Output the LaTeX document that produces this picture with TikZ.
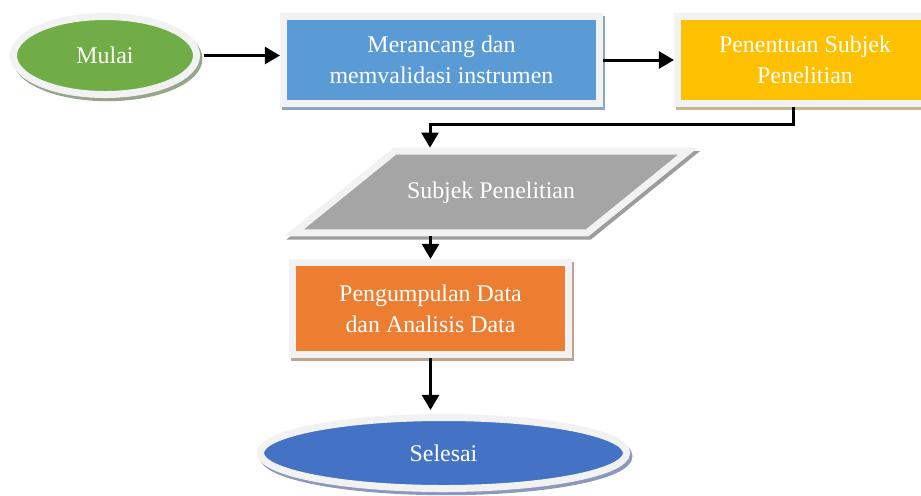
\documentclass[tikz,border=0pt]{standalone}
\usepackage{fontspec}
\setmainfont{Liberation Serif}
\usetikzlibrary{arrows.meta,shapes.geometric,shadows}
\definecolor{frame}{HTML}{F2F2F2}
\definecolor{startgreen}{HTML}{70AD47}
\definecolor{stepblue}{HTML}{5B9BD5}
\definecolor{stepgold}{HTML}{FFC000}
\definecolor{inputgray}{HTML}{A5A5A5}
\definecolor{steporange}{HTML}{ED7D31}
\definecolor{endblue}{HTML}{4472C4}
\definecolor{greenshade}{HTML}{96A68A}
\definecolor{blueshade}{HTML}{8FA4C0}
\definecolor{goldshade}{HTML}{C9B68E}
\definecolor{grayshade}{HTML}{9C9C9C}
\definecolor{orangeshade}{HTML}{C4A38C}
\definecolor{endshade}{HTML}{8C99BC}
\tikzset{
  flow/.style={
    draw=frame,
    line width=0.175cm,
    text=white,
    inner sep=0pt,
    align=center,
    font=\fontsize{17}{22}\selectfont
  },
  shade/.style={
    drop shadow={shadow xshift=0.06cm, shadow yshift=-0.08cm,
      opacity=1, fill=#1, draw=#1, line width=0.175cm}
  },
  arr/.style={line width=0.075cm, -{Triangle[length=0.375cm, width=0.42cm]}}
}

\begin{document}
\begin{tikzpicture}[x=0.025cm, y=-0.025cm]
  \useasboundingbox (0,0) rectangle (921,495);
  \clip (0,0) rectangle (921,495);

  % top row
  \node[flow, ellipse, fill=startgreen, shade=greenshade,
    minimum width=4.575cm, minimum height=1.95cm] (mulai) at (105,55.5) {Mulai};
  \node[flow, rectangle, fill=stepblue, shade=blueshade,
    minimum width=7.9cm, minimum height=2.175cm] (rancang) at (441.5,60)
    {Merancang dan\\memvalidasi instrumen};
  \node[flow, rectangle, fill=stepgold, shade=goldshade,
    minimum width=6.375cm, minimum height=2.175cm] (penentuan) at (805,60)
    {Penentuan Subjek\\Penelitian};

  % column down the middle
  \node[flow, trapezium, trapezium left angle=39, trapezium right angle=141,
    trapezium stretches body, fill=inputgray, shade=grayshade,
    text height=0.45cm, text depth=0.15cm, inner ysep=0.72cm,
    minimum width=9.85cm] (subjek) at (491,192)
    {Subjek Penelitian};
  \node[flow, rectangle, fill=steporange, shade=orangeshade,
    minimum width=6.9cm, minimum height=2.3cm] (olah) at (430.5,308.5)
    {Pengumpulan Data\\dan Analisis Data};
  \node[flow, ellipse, fill=endblue, shade=endshade,
    minimum width=9.15cm, minimum height=1.775cm] (selesai) at (443.5,453)
    {Selesai};

  \coordinate (bend) at (430,124);

  \draw[arr, shorten <=0.1cm] (mulai.east) -- (mulai.east -| rancang.west);
  \draw[arr] (rancang.east) -- (penentuan.west);
  \draw[arr] ([xshift=-0.3cm]penentuan.south) |- (bend) -- (bend |- subjek.north);
  \draw[arr] (subjek.south -| olah.north) -- (olah.north);
  \draw[arr, shorten >=0.1cm] (olah.south) -- (olah.south |- selesai.north);
\end{tikzpicture}
\end{document}
